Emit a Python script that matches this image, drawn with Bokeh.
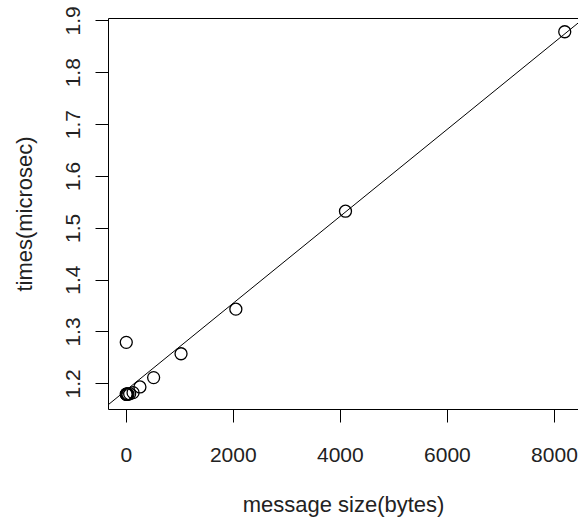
from bokeh.plotting import figure
from bokeh.models import Range1d, LinearAxis, FixedTicker, Slope
from bokeh.embed import file_html
from bokeh.resources import INLINE

# data
sizes = [1, 2, 4, 8, 16, 32, 64, 128, 256, 512, 1024, 2048, 4096, 8192]
times = [1.28, 1.18, 1.18, 1.18, 1.18, 1.18, 1.181, 1.183, 1.194, 1.212, 1.258, 1.344, 1.533, 1.879]
fit_intercept = 1.1879
fit_slope = 8.387e-5
x_ticks = [0, 2000, 4000, 6000, 8000]
y_ticks = [1.2, 1.3, 1.4, 1.5, 1.6, 1.7, 1.8, 1.9]

FONT = "Liberation Sans"
FS = "21px"
TFS = "22px"

p = figure(width=578, height=519, output_backend="svg", toolbar_location=None,
           x_range=Range1d(-331, 8449), y_range=Range1d(1.1505, 1.9046),
           min_border_left=108, min_border_right=0, min_border_top=18, min_border_bottom=109,
           outline_line_color=None, background_fill_color="white", border_fill_color="white")
p.grid.visible = False

for ax in (p.xaxis[0], p.yaxis[0]):
    ax.axis_line_color = "black"
    ax.axis_line_width = 1
    ax.major_tick_in = 0
    ax.major_tick_out = 13
    ax.major_tick_line_color = "black"
    ax.minor_tick_line_color = None
    ax.major_label_text_font = FONT
    ax.major_label_text_font_size = FS
    ax.major_label_text_color = "#222222"
    ax.axis_label_text_font = FONT
    ax.axis_label_text_font_size = TFS
    ax.axis_label_text_font_style = "normal"
    ax.axis_label_text_color = "#222222"

p.xaxis[0].ticker = FixedTicker(ticks=x_ticks)
p.yaxis[0].ticker = FixedTicker(ticks=y_ticks)
p.xaxis[0].axis_label = "message size(bytes)"
p.yaxis[0].axis_label = "times(microsec)"
p.yaxis[0].major_label_orientation = "vertical"
p.xaxis[0].major_label_standoff = 25
p.yaxis[0].major_label_standoff = 15
p.xaxis[0].axis_label_standoff = 27
p.yaxis[0].axis_label_standoff = 27

top = LinearAxis(ticker=FixedTicker(ticks=[]), major_label_text_font_size="0px",
                 axis_line_color="black", major_tick_out=0, major_tick_in=0,
                 minor_tick_line_color=None)
p.add_layout(top, "above")

p.add_layout(Slope(gradient=fit_slope, y_intercept=fit_intercept,
                   line_color="black", line_width=1))
p.scatter(sizes, times, marker="circle", size=12, fill_color=None,
          line_color="black", line_width=1.3)

open("out.html", "w").write(file_html(p, INLINE))
